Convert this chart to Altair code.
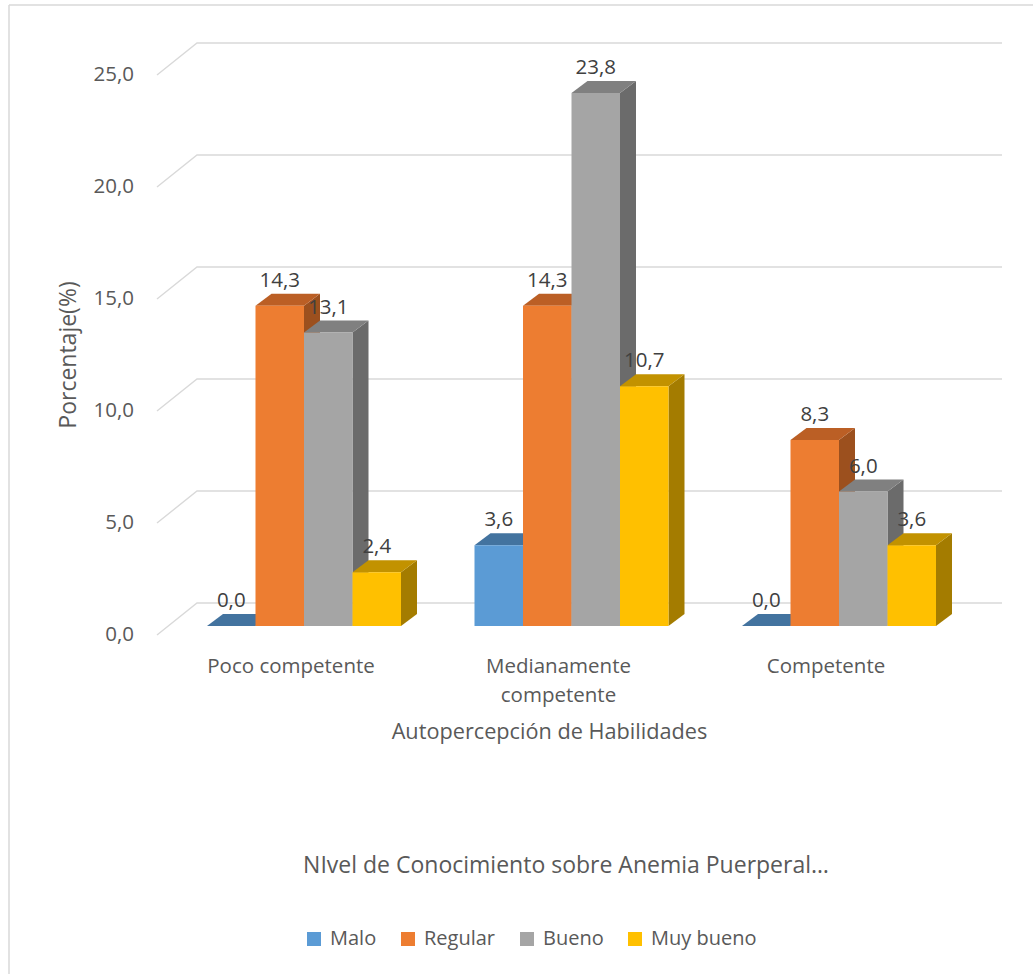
import altair as alt
import pandas as pd

# ---------------- data ----------------
categories = ["Poco competente", "Medianamente competente", "Competente"]
category_lines = [["Poco competente"], ["Medianamente", "competente"], ["Competente"]]
series = ["Malo", "Regular", "Bueno", "Muy bueno"]
malo = [0.0, 3.6, 0.0]
regular = [14.3, 14.3, 8.3]
bueno = [13.1, 23.8, 6.0]
muy_bueno = [2.4, 10.7, 3.6]
series_values = [malo, regular, bueno, muy_bueno]
y_ticks = [0, 5, 10, 15, 20, 25]

x_title = "Autopercepción de Habilidades"
y_title = "Porcentaje(%)"
legend_title = "NIvel de Conocimiento sobre Anemia Puerperal…"

front_colors = ["#5B9BD5", "#ED7D31", "#A5A5A5", "#FFC000"]
top_colors = ["#43739F", "#BB5F25", "#808080", "#C29200"]
side_colors = ["#3A6590", "#9C501E", "#6B6B6B", "#A47C00"]

FONT = "Open Sans"

# ---------------- layout (pixel geometry -> data units) ----------------
W, H = 1033, 974
PX_PER_GROUP = 267.5
GROUP0_PX = 304.0
PX_PER_UNIT = 22.4
BASE_PX = 626.0


def gx(px):
    return (px - GROUP0_PX) / PX_PER_GROUP


def vy(py):
    return (BASE_PX - py) / PX_PER_UNIT


BW = 48.5 / PX_PER_GROUP
DX = 16.0 / PX_PER_GROUP
DY = 12.0 / PX_PER_UNIT
FRONT_DROP = 9.0 / PX_PER_UNIT
WALL_RISE = 23.0 / PX_PER_UNIT
LABEL_GAP = 7.0 / PX_PER_UNIT

xs = alt.Scale(domain=[gx(0), gx(W)], nice=False, zero=False)
ys = alt.Scale(domain=[vy(H), vy(0)], nice=False, zero=False)

# ---------------- tables ----------------
bars, tops, sides = [], [], []
for si, s in enumerate(series):
    for gi, c in enumerate(categories):
        v = series_values[si][gi]
        x0 = gi + (si - 2) * BW
        x1 = x0 + BW
        bid = f"{s}-{gi}"
        bars.append(dict(series=s, cat=c, v=v, x0=x0, x1=x1, xc=x0 + BW / 2,
                         ylab=v + DY + LABEL_GAP))
        for (px, lo, hi) in [(x0, v, v), (x0 + DX, v, v + DY), (x1, v, v + DY),
                             (x1 + DX, v + DY, v + DY)]:
            tops.append(dict(series=s, bar=bid, x=px, lo=lo, hi=hi))
        for (px, lo, hi) in [(x1, 0.0, v), (x1 + DX, DY, v + DY)]:
            sides.append(dict(series=s, bar=bid, x=px, lo=lo, hi=hi))
bars_df = pd.DataFrame(bars)
tops_df = pd.DataFrame(tops)
sides_df = pd.DataFrame(sides)

grid = []
for t in y_ticks:
    grid.append(dict(t=t, o=0, x=gx(157), y=t - FRONT_DROP))
    grid.append(dict(t=t, o=1, x=gx(197), y=t + WALL_RISE))
    grid.append(dict(t=t, o=2, x=gx(1002), y=t + WALL_RISE))
grid_df = pd.DataFrame(grid)
ticks_df = pd.DataFrame(dict(t=y_ticks, x=gx(134), y=[t - FRONT_DROP for t in y_ticks]))
cats_df = pd.DataFrame(dict(lines=category_lines,
                            x=[i - 13 / PX_PER_GROUP for i in range(len(categories))],
                            y=vy(657)))

# ---------------- layers ----------------
layers = []

layers.append(
    alt.Chart(grid_df).mark_line(color="#D9D9D9", strokeWidth=1.4).encode(
        x=alt.X("x:Q", scale=xs, axis=None),
        y=alt.Y("y:Q", scale=ys, axis=None),
        detail="t:N",
        order="o:Q",
    )
)

layers.append(
    alt.Chart(ticks_df).transform_calculate(
        lab="replace(format(datum.t, '.1f'), '.', ',')"
    ).mark_text(align="right", baseline="middle", font=FONT, fontSize=20.5,
                color="#595959").encode(
        x=alt.X("x:Q", scale=xs, axis=None),
        y=alt.Y("y:Q", scale=ys, axis=None),
        text="lab:N",
    )
)

for si, s in enumerate(series):
    layers.append(
        alt.Chart(sides_df).transform_filter(alt.datum.series == s)
        .mark_area(color=side_colors[si], interpolate="linear").encode(
            x=alt.X("x:Q", scale=xs, axis=None),
            y=alt.Y("lo:Q", scale=ys, axis=None),
            y2="hi:Q",
            detail="bar:N",
        )
    )
    layers.append(
        alt.Chart(tops_df).transform_filter(alt.datum.series == s)
        .mark_area(color=top_colors[si], interpolate="linear").encode(
            x=alt.X("x:Q", scale=xs, axis=None),
            y=alt.Y("lo:Q", scale=ys, axis=None),
            y2="hi:Q",
            detail="bar:N",
        )
    )
    layers.append(
        alt.Chart(bars_df).transform_filter(alt.datum.series == s)
        .transform_calculate(base="0")
        .mark_rect().encode(
            x=alt.X("x0:Q", scale=xs, axis=None),
            x2="x1:Q",
            y=alt.Y("base:Q", scale=ys, axis=None),
            y2="v:Q",
            color=alt.Color(
                "series:N",
                scale=alt.Scale(domain=series, range=front_colors),
                legend=alt.Legend(
                    title=None, orient="none", legendX=304, legendY=929,
                    direction="horizontal", symbolType="square", symbolSize=196,
                    symbolStrokeWidth=0, labelFont=FONT, labelFontSize=20,
                    labelColor="#595959", labelOffset=6, columnPadding=21,
                ),
            ),
        )
    )

layers.append(
    alt.Chart(bars_df).transform_calculate(
        lab="replace(format(datum.v, '.1f'), '.', ',')"
    ).mark_text(align="center", baseline="alphabetic", font=FONT, fontSize=20.5,
                color="#404040").encode(
        x=alt.X("xc:Q", scale=xs, axis=None),
        y=alt.Y("ylab:Q", scale=ys, axis=None),
        text="lab:N",
    )
)

layers.append(
    alt.Chart(cats_df).mark_text(align="center", baseline="top", font=FONT,
                                 fontSize=20.5, color="#595959", lineHeight=29).encode(
        x=alt.X("x:Q", scale=xs, axis=None),
        y=alt.Y("y:Q", scale=ys, axis=None),
        text="lines",
    )
)

layers.append(
    alt.Chart(pd.DataFrame(dict(txt=[x_title], x=[gx(549.5)], y=[vy(732)])))
    .mark_text(align="center", baseline="middle", font=FONT,
               fontSize=21.7, color="#595959").encode(
        x=alt.X("x:Q", scale=xs, axis=None),
        y=alt.Y("y:Q", scale=ys, axis=None),
        text="txt:N",
    )
)
layers.append(
    alt.Chart(pd.DataFrame(dict(txt=[legend_title], x=[gx(566)], y=[vy(866)])))
    .mark_text(align="center", baseline="middle", font=FONT,
               fontSize=23, color="#595959").encode(
        x=alt.X("x:Q", scale=xs, axis=None),
        y=alt.Y("y:Q", scale=ys, axis=None),
        text="txt:N",
    )
)
layers.append(
    alt.Chart(pd.DataFrame(dict(txt=[y_title], x=[gx(69)], y=[vy(355)])))
    .mark_text(align="center", baseline="middle", font=FONT, fontSize=23,
               color="#595959", angle=270).encode(
        x=alt.X("x:Q", scale=xs, axis=None),
        y=alt.Y("y:Q", scale=ys, axis=None),
        text="txt:N",
    )
)

# outer frame (top and left edges visible)
frame = pd.DataFrame({"k": [0]})
layers.append(
    alt.Chart(frame).mark_rule(color="#D9D9D9", strokeWidth=1.5).encode(
        x=alt.value(9), y=alt.value(5), y2=alt.value(H)))
layers.append(
    alt.Chart(frame).mark_rule(color="#D9D9D9", strokeWidth=1.5).encode(
        y=alt.value(5), x=alt.value(9), x2=alt.value(W)))

chart = alt.layer(*layers).properties(
    width=W, height=H, padding=0,
    autosize=alt.AutoSizeParams(type="none"),
    background="white",
).configure_view(stroke=None)

chart.save("out.html", embed_options={"renderer": "svg", "actions": False})
